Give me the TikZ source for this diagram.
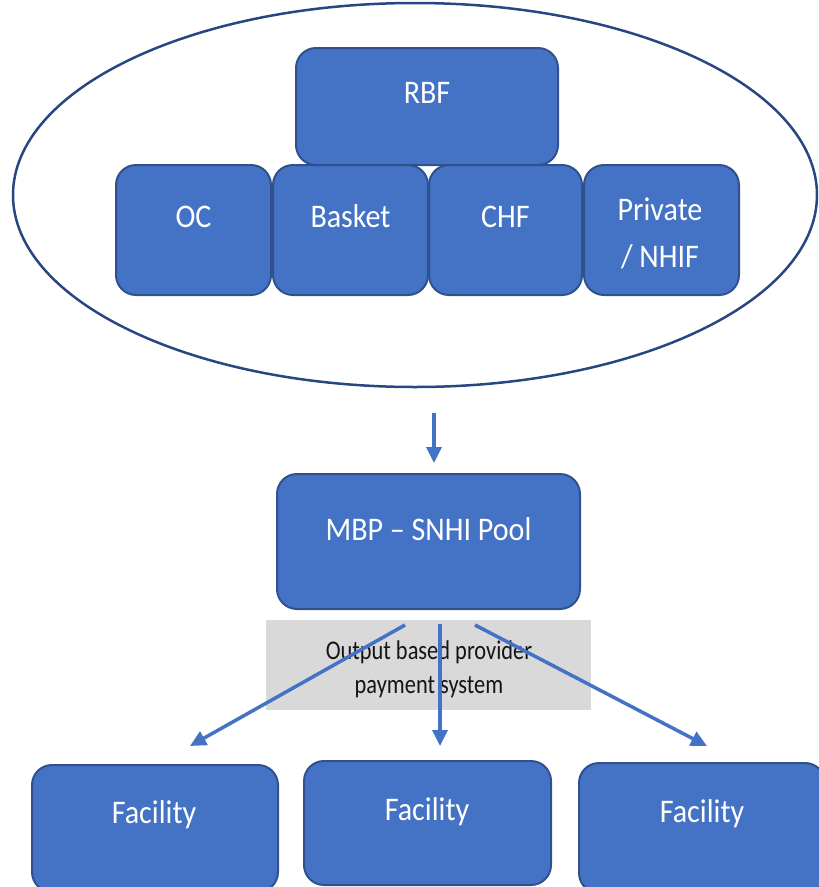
\documentclass[tikz,border=0pt]{standalone}
\usepackage{fontspec}
\setmainfont{Carlito}
\newfontfamily\boxfont[FakeStretch=0.91]{Carlito}
\newfontfamily\grayfont[FakeStretch=0.83]{Carlito}
\usetikzlibrary{shapes.geometric,arrows.meta}
\definecolor{boxfill}{RGB}{68,114,196}
\definecolor{boxline}{RGB}{47,82,143}
\definecolor{ellline}{RGB}{40,70,130}
\definecolor{grayfill}{RGB}{217,217,217}
\definecolor{arrcol}{RGB}{68,114,196}
\tikzset{
  box/.style={draw=boxline, line width=2pt, fill=boxfill, rounded corners=20pt, inner sep=0pt},
  boxtxt/.style={text=white, font=\boxfont\fontsize{33}{40}\selectfont, anchor=base, inner sep=0pt},
  graytxt/.style={text=black!92, font=\grayfont\fontsize{27}{32}\selectfont, anchor=base, inner sep=0pt},
  arr/.style={draw=arrcol, line width=3.5pt, -{Triangle[length=16pt,width=15pt]}}
}
\begin{document}
\begin{tikzpicture}[x=1pt,y=-1pt]
\useasboundingbox (0,0) rectangle (819,887);
\clip (0,0) rectangle (819,887);
% ellipse
\node[draw=ellline, line width=2.5pt, ellipse, minimum width=804pt, minimum height=384pt, inner sep=0pt] (ell) at (415,195) {};
% top boxes
\node[box, minimum width=262pt, minimum height=117pt] (rbf) at (427,106.5) {};
\node[box, minimum width=155pt, minimum height=130pt] (oc) at (193.5,230) {};
\node[box, minimum width=155pt, minimum height=130pt] (basket) at (350.5,230) {};
\node[box, minimum width=153pt, minimum height=130pt] (chf) at (505.5,230) {};
\node[box, minimum width=155pt, minimum height=130pt] (priv) at (661.5,230) {};
\node[boxtxt] (trbf) at (427,103) {RBF};
\node[boxtxt] (toc) at (193.5,227) {OC};
\node[boxtxt] (tbasket) at (350.5,227) {Basket};
\node[boxtxt] (tchf) at (505.5,227) {CHF};
\node[boxtxt] (tpriv1) at (660,220) {Private};
\node[boxtxt] (tpriv2) at (660,267) {/ NHIF};
% middle box
\node[box, minimum width=303pt, minimum height=135pt] (mbp) at (428.5,541.5) {};
\node[boxtxt] (tmbp) at (428.5,540) {MBP – SNHI Pool};
% gray box
\node[fill=grayfill, minimum width=325pt, minimum height=90pt, inner sep=0pt] (gray) at (428.5,665) {};
\node[graytxt] (tg1) at (429,659) {Output based provider};
\node[graytxt] (tg2) at (429,693) {payment system};
% facilities
\node[box, minimum width=246pt, minimum height=127pt] (f1) at (155,828.5) {};
\node[box, minimum width=247pt, minimum height=124pt] (f2) at (427.5,823) {};
\node[box, minimum width=246pt, minimum height=130pt] (f3) at (702,828) {};
\node[boxtxt] (tf1) at (154,823) {Facility};
\node[boxtxt] (tf2) at (427,820) {Facility};
\node[boxtxt] (tf3) at (702,822) {Facility};
% arrows
\coordinate (s1) at (434,413);
\coordinate (e1) at (434,463);
\draw[arr] (s1) -- (e1);
\coordinate (ms1) at (405,625);
\coordinate (ms2) at (440,624);
\coordinate (ms3) at (475,625);
\coordinate (fe1) at (190,746);
\coordinate (fe2) at (440,746);
\coordinate (fe3) at (707,746);
\draw[arr] (ms1) -- (fe1);
\draw[arr] (ms2) -- (fe2);
\draw[arr] (ms3) -- (fe3);
\end{tikzpicture}
\end{document}
